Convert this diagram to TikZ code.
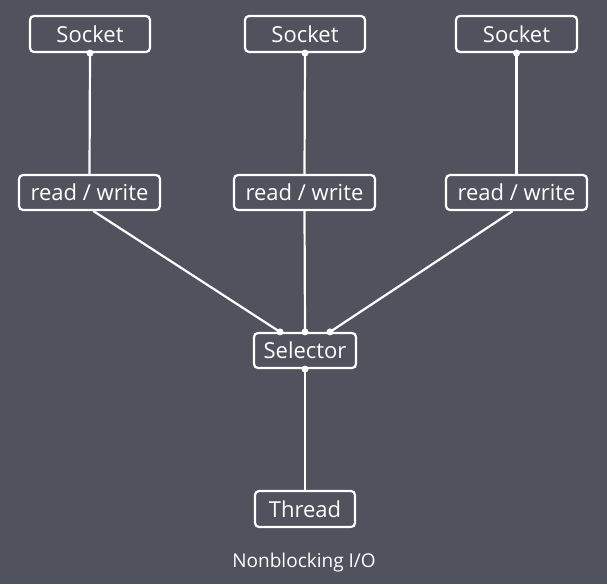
\documentclass[tikz,border=0pt]{standalone}
\usepackage{fontspec}
\setmainfont{Open Sans}
\definecolor{bg}{HTML}{50535E}
\begin{document}
\begin{tikzpicture}[x=1pt,y=-1pt,
  box/.style={draw=white,line width=2.2pt,rounded corners=4pt,text=white,font=\fontsize{22}{24}\selectfont,inner sep=0pt},
  ln/.style={draw=white,line width=2.2pt},
  dot/.style={circle,fill=white,inner sep=0pt,minimum size=7pt}]
\fill[bg] (0,0) rectangle (607,584);
\useasboundingbox (0,0) rectangle (607,584);
\node[box,minimum width=120pt,minimum height=36pt] (s1) at (90,34) {Socket};
\node[box,minimum width=120pt,minimum height=36pt] (s2) at (305,34) {Socket};
\node[box,minimum width=121pt,minimum height=36pt] (s3) at (516.5,34) {Socket};
\node[box,minimum width=141pt,minimum height=35pt] (r1) at (89.5,192.5) {read / write};
\node[box,minimum width=141pt,minimum height=35pt] (r2) at (304.5,192.5) {read / write};
\node[box,minimum width=141pt,minimum height=35pt] (r3) at (516.5,192.5) {read / write};
\node[box,minimum width=102pt,minimum height=35pt] (sel) at (305,350.5) {Selector};
\node[box,minimum width=100pt,minimum height=36pt] (th) at (305,509) {Thread};
\node[text=white,font=\fontsize{19}{21}\selectfont] (cap) at (304,563) {Nonblocking I/O};
\foreach \i in {1,2,3}{
  \draw[ln] (s\i.south) -- (r\i.north);
  \node[dot] at (s\i.south) {};
}
\coordinate (a1) at ([xshift=-25pt]sel.north);
\coordinate (a3) at ([xshift=25pt]sel.north);
\draw[ln] ([xshift=4pt]r1.south) -- (a1);
\draw[ln] (r2.south) -- (sel.north);
\draw[ln] ([xshift=-4pt]r3.south) -- (a3);
\node[dot] at (a1) {};
\node[dot] at (sel.north) {};
\node[dot] at (a3) {};
\draw[ln] (sel.south) -- (th.north);
\node[dot] at (sel.south) {};
\end{tikzpicture}
\end{document}
